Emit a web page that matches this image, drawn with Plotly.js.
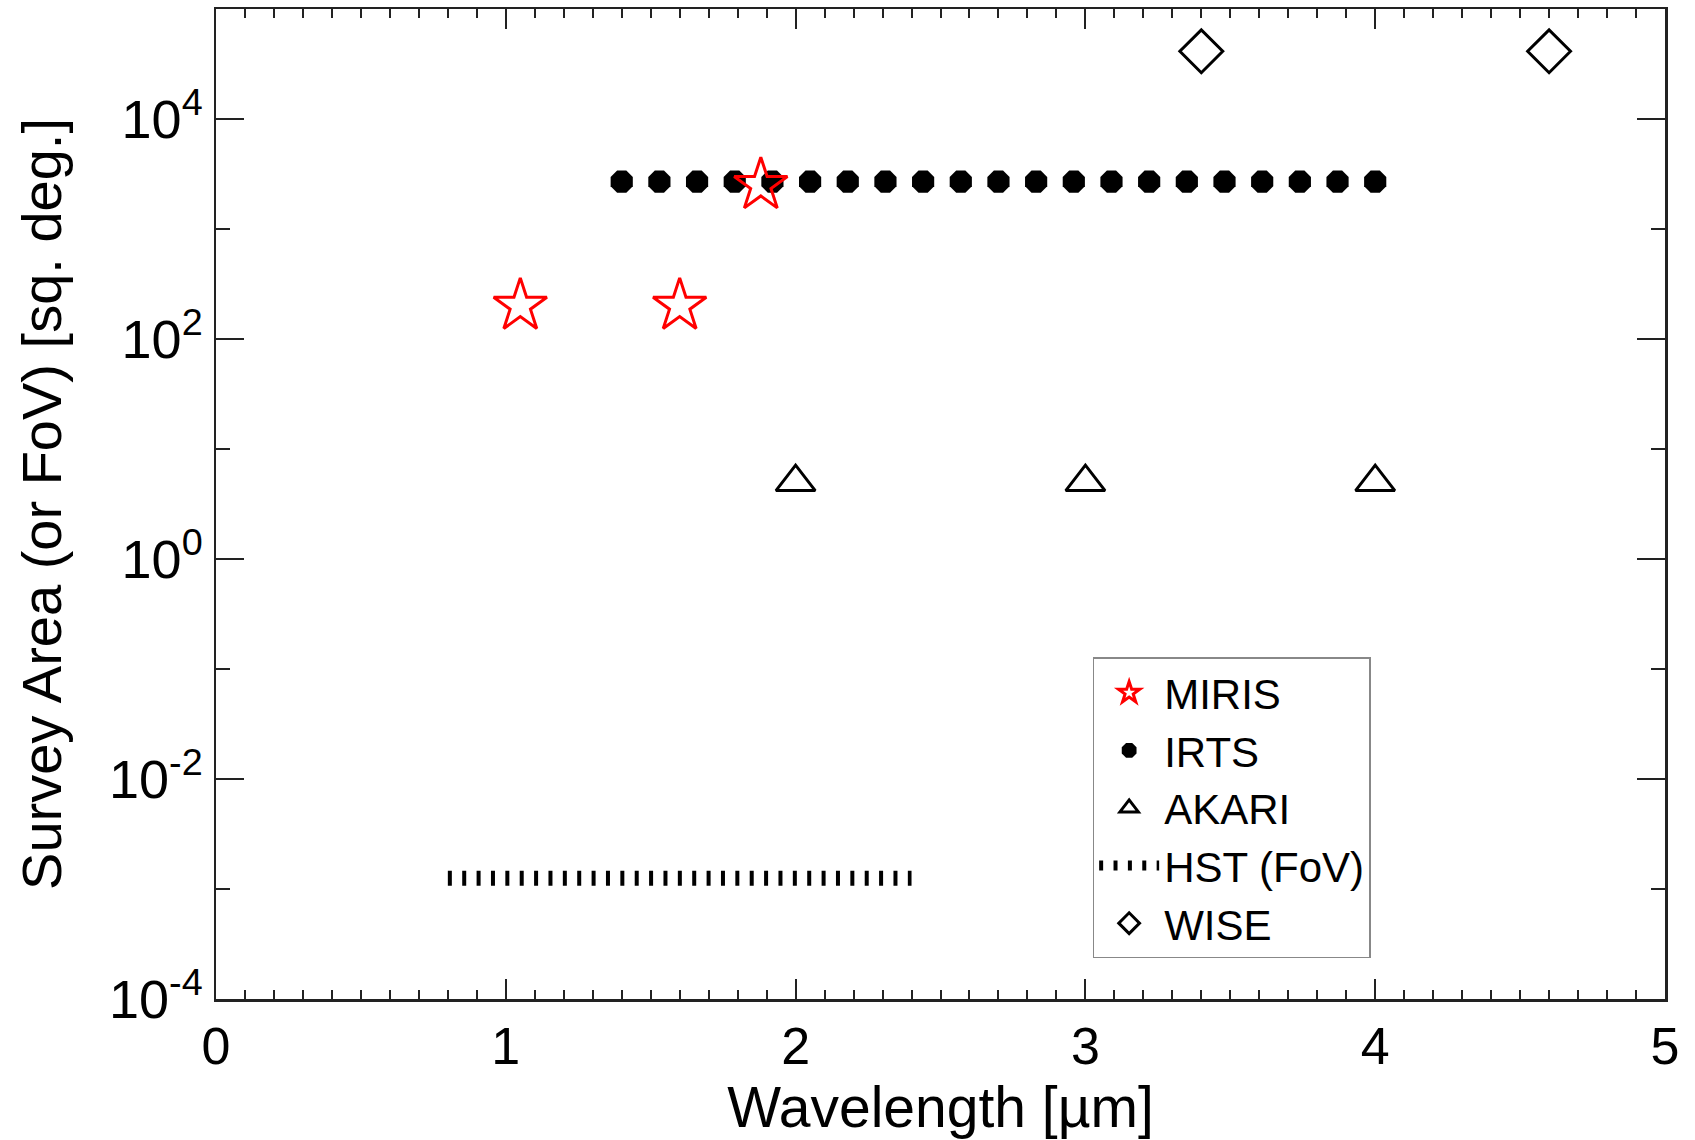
<!DOCTYPE html>
<html><head><meta charset="utf-8">
<script src="https://cdn.plot.ly/plotly-3.0.1.min.js"></script>
<style>html,body{margin:0;padding:0;background:#fff}</style>
</head><body><div id="chart" style="width:1695px;height:1140px"></div>
<script>
// ---- data ----
const mirisWavelength = [1.05, 1.60, 1.88];
const mirisArea = [200, 200, 2500];
const irtsWavelength = [1.40, 1.53, 1.66, 1.79, 1.92, 2.05, 2.18, 2.31, 2.44, 2.57, 2.70,
                        2.83, 2.96, 3.09, 3.22, 3.35, 3.48, 3.61, 3.74, 3.87, 4.00];
const irtsArea = [2700, 2700, 2700, 2700, 2700, 2700, 2700, 2700, 2700, 2700, 2700,
                  2700, 2700, 2700, 2700, 2700, 2700, 2700, 2700, 2700, 2700];
const akariWavelength = [2, 3, 4];
const akariArea = [5, 5, 5];
const hstWavelength = [0.8, 2.4];
const hstArea = [1.25e-3, 1.25e-3];
const wiseWavelength = [3.4, 4.6];
const wiseArea = [41253, 41253];

const xTickVals = [0, 1, 2, 3, 4, 5];
const xTickText = ['0', '1', '2', '3', '4', '5'];
const yTickVals = [1e-4, 1e-2, 1, 1e2, 1e4];
const yTickText = ['10<sup>-4</sup>', '10<sup>-2</sup>', '10<sup>0</sup>', '10<sup>2</sup>', '10<sup>4</sup>'];
const yMinorVals = [1e-3, 1e-1, 10, 1e3];

const FONT = 'Liberation Sans, Arial, Helvetica, sans-serif';
const AX = '#222';

const traces = [
  {name: 'IRTS', x: irtsWavelength, y: irtsArea, type: 'scatter', mode: 'markers', legendrank: 2,
   marker: {symbol: 'octagon', size: 24, color: '#000'}},
  {name: 'AKARI', x: akariWavelength, y: akariArea, type: 'scatter', mode: 'markers', legendrank: 3,
   marker: {symbol: 'triangle-up-open', size: 34, color: '#000', line: {width: 3, color: '#000'}}},
  {name: 'HST (FoV)', x: hstWavelength, y: hstArea, type: 'scatter', mode: 'lines', legendrank: 4,
   line: {color: '#000', width: 15, dash: '4px,10.375px'}},
  {name: 'WISE', x: wiseWavelength, y: wiseArea, type: 'scatter', mode: 'markers', legendrank: 5,
   marker: {symbol: 'diamond-open', size: 33, color: '#000', line: {width: 3, color: '#000'}}},
  {name: 'MIRIS', x: mirisWavelength, y: mirisArea, type: 'scatter', mode: 'markers', legendrank: 1,
   marker: {symbol: 'star-open', size: 40, color: '#ff0000', line: {width: 3, color: '#ff0000'}}}
];

const layout = {
  width: 1695, height: 1140,
  margin: {l: 216, r: 30, t: 9, b: 141, autoexpand: false},
  paper_bgcolor: '#fff', plot_bgcolor: '#fff',
  font: {family: FONT, color: '#000', size: 52},
  showlegend: true,
  legend: {
    x: 0.605, y: 0.345, xanchor: 'left', yanchor: 'top',
    bgcolor: '#fff', bordercolor: '#888', borderwidth: 1.5,
    font: {family: FONT, size: 42, color: '#000'},
    itemwidth: 60
  },
  xaxis: {
    range: [0, 5], tickmode: 'array', tickvals: xTickVals, ticktext: xTickText,
    ticks: 'inside', ticklen: 20, tickwidth: 2, tickcolor: AX,
    showline: true, linecolor: AX, linewidth: 2.5, mirror: 'ticks',
    showgrid: false, zeroline: false,
    minor: {tick0: 0, dtick: 0.1, ticks: 'inside', ticklen: 9, tickwidth: 2, tickcolor: AX, showgrid: false},
    tickfont: {family: FONT, size: 52, color: '#000'},
    title: {text: 'Wavelength [µm]', font: {family: FONT, size: 57, color: '#000'}, standoff: 6}
  },
  yaxis: {
    type: 'log', range: [-4, 5], tickmode: 'array', tickvals: yTickVals, ticktext: yTickText,
    ticks: 'inside', ticklen: 28, tickwidth: 2, tickcolor: AX,
    showline: true, linecolor: AX, linewidth: 2.5, mirror: 'ticks',
    showgrid: false, zeroline: false,
    minor: {tickmode: 'array', tickvals: yMinorVals, ticks: 'inside', ticklen: 14, tickwidth: 2, tickcolor: AX, showgrid: false},
    tickfont: {family: FONT, size: 54, color: '#000'},
    title: {text: 'Survey Area (or FoV) [sq. deg.]', font: {family: FONT, size: 56, color: '#000'}, standoff: 30}
  }
};

Plotly.newPlot('chart', traces, layout, {displayModeBar: false, staticPlot: true});
</script>
</body></html>
